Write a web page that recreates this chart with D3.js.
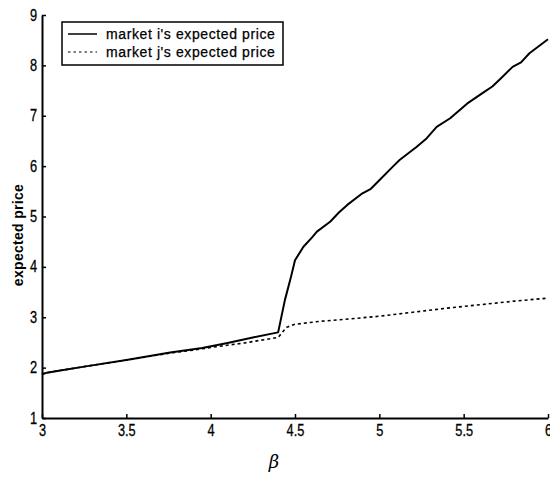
<!DOCTYPE html>
<html><head><meta charset="utf-8">
<script src="https://cdn.jsdelivr.net/npm/d3@7"></script>
<style>body{margin:0;background:#fff}svg{display:block}</style>
</head><body>
<script>
const betaI = [3.0, 3.03, 3.1, 3.25, 3.5, 3.76, 3.95, 4.1, 4.25, 4.4, 4.44, 4.476, 4.5, 4.55, 4.6, 4.63, 4.71, 4.76, 4.81, 4.9, 4.95, 5.0, 5.08, 5.12, 5.22, 5.28, 5.34, 5.42, 5.52, 5.62, 5.67, 5.72, 5.79, 5.84, 5.89, 6.0];
const priceI = [1.87, 1.9, 1.94, 2.02, 2.15, 2.3, 2.39, 2.49, 2.6, 2.7, 3.34, 3.8, 4.13, 4.4, 4.58, 4.7, 4.9, 5.08, 5.23, 5.46, 5.55, 5.72, 5.99, 6.12, 6.38, 6.55, 6.78, 6.95, 7.24, 7.47, 7.58, 7.74, 7.97, 8.06, 8.24, 8.52];
const betaJ = [3.0, 3.03, 3.1, 3.25, 3.5, 3.76, 3.9, 4.0, 4.2, 4.4, 4.45, 4.5, 4.65, 4.8, 5.0, 5.2, 5.4, 5.6, 5.8, 6.0];
const priceJ = [1.87, 1.9, 1.94, 2.02, 2.15, 2.29, 2.35, 2.4, 2.49, 2.6, 2.8, 2.86, 2.92, 2.96, 3.02, 3.1, 3.18, 3.25, 3.32, 3.38];
const xTicks = [3, 3.5, 4, 4.5, 5, 5.5, 6];
const yTicks = [1, 2, 3, 4, 5, 6, 7, 8, 9];
const legendLabels = ["market i's expected price", "market j's expected price"];

const W = 550, H = 480;
const svg = d3.select("body").append("svg").attr("width", W).attr("height", H);
const x = d3.scaleLinear().domain([3, 6]).range([42, 548]);
const y = d3.scaleLinear().domain([1, 9]).range([418, 15]);
const font = "Arial, 'Liberation Sans', Helvetica, sans-serif";

// axes
const xAxis = d3.axisBottom(x).tickValues(xTicks).tickSizeInner(-4).tickSizeOuter(0).tickPadding(7)
  .tickFormat(d => String(d));
const gx = svg.append("g").attr("transform", `translate(0,${y(1)})`).call(xAxis);
const yAxis = d3.axisLeft(y).tickValues(yTicks).tickSizeInner(-4).tickSizeOuter(0).tickPadding(6)
  .tickFormat(d => String(d));
const gy = svg.append("g").attr("transform", `translate(${x(3)},0)`).call(yAxis);
[gx, gy].forEach(g => {
  g.select(".domain").attr("stroke", "#000").attr("stroke-width", 2);
  g.selectAll(".tick line").attr("stroke", "#000").attr("stroke-width", 1.5);
  g.selectAll(".tick text").attr("font-family", font).attr("font-size", 16).attr("fill", "#000")
    .attr("stroke", "#000").attr("stroke-width", 0.3)
    .attr("transform", "scale(0.8,1)");
});
gx.selectAll(".tick text").attr("dy", "0.71em");

// lines
const line = d3.line().x(d => x(d[0])).y(d => y(d[1]));
svg.append("path").datum(d3.zip(betaI, priceI)).attr("d", line)
  .attr("fill", "none").attr("stroke", "#000").attr("stroke-width", 2).attr("stroke-linejoin", "round");
svg.append("path").datum(d3.zip(betaJ, priceJ)).attr("d", line)
  .attr("fill", "none").attr("stroke", "#000").attr("stroke-width", 1.6).attr("stroke-dasharray", "3,3");

// legend
const lg = svg.append("g");
lg.append("rect").attr("x", 62).attr("y", 22).attr("width", 221).attr("height", 43)
  .attr("fill", "#fff").attr("stroke", "#000").attr("stroke-width", 1.5);
legendLabels.forEach((t, i) => {
  const yy = 34 + i * 18;
  lg.append("line").attr("x1", 68).attr("x2", 97).attr("y1", yy).attr("y2", yy)
    .attr("stroke", "#000").attr("stroke-width", i === 0 ? 1.5 : 1.2)
    .attr("stroke-dasharray", i === 0 ? null : "2.5,3");
  lg.append("text").attr("x", 106).attr("y", yy).attr("dy", "0.35em")
    .attr("font-family", font).attr("font-size", 14).attr("letter-spacing", 0.6)
    .attr("stroke", "#000").attr("stroke-width", 0.25)
    .attr("fill", "#000").text(t);
});

// labels
svg.append("text").attr("transform", "translate(23,235) rotate(-90)").attr("text-anchor", "middle")
  .attr("font-family", font).attr("font-size", 14).attr("font-weight", "bold").attr("letter-spacing", 0.3)
  .attr("fill", "#000").text("expected price");
svg.append("text").attr("x", 274).attr("y", 468).attr("text-anchor", "middle")
  .attr("font-family", "'DejaVu Serif', 'Liberation Serif', serif").attr("font-style", "italic")
  .attr("font-size", 18).attr("fill", "#000").text("β");
</script>
</body></html>
